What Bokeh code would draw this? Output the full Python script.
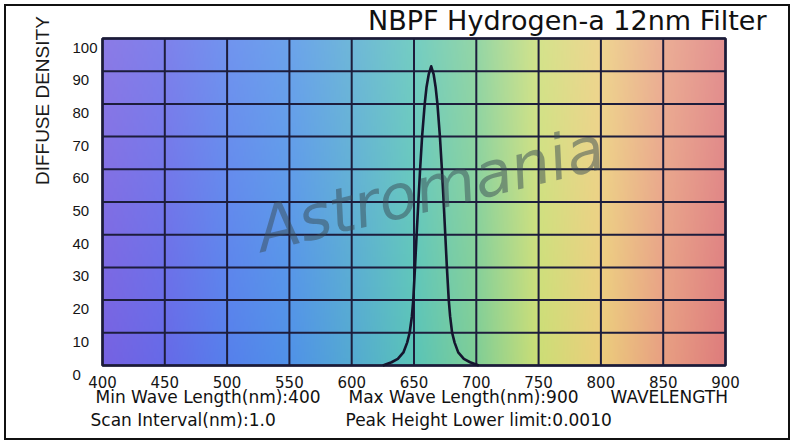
import numpy as np
from bokeh.plotting import figure
from bokeh.models import Range1d, Label, LabelSet, ColumnDataSource
from bokeh.core.properties import value
from bokeh.embed import file_html
from bokeh.resources import INLINE

# ---- data ----
wavelength_nm = [625, 632, 637, 641.5, 644.5, 646.5, 648.3, 649.4, 650.8, 652.1, 653.5, 654.9,
                 656.5, 658.6, 660.0, 661.8, 663.8, 665.8, 667.4, 668.8, 670.8, 672.4, 673.8,
                 675.1, 676.4, 677.9, 679.0, 680.6, 682.6, 685.5, 690, 695, 702]
density = [0, 1, 2, 4, 7, 10, 15, 20, 30, 40, 50, 60,
           70, 80, 85, 89, 91.5, 89, 85, 80, 70, 60, 50,
           40, 30, 20, 15, 10, 7, 4, 2, 1, 0]
x_ticks = [400, 450, 500, 550, 600, 650, 700, 750, 800, 850, 900]
y_ticks = [0, 10, 20, 30, 40, 50, 60, 70, 80, 90, 100]

title_text = "NBPF Hydrogen-a 12nm Filter"
y_title = "DIFFUSE DENSITY"
footer_row1 = ["Min Wave Length(nm):400", "Max Wave Length(nm):900", "WAVELENGTH"]
footer_row2 = ["Scan Interval(nm):1.0", "Peak Height Lower limit:0.0010"]

# ---- layout (pixels on the page) ----
CANVAS_L, CANVAS_T, CANVAS_R, CANVAS_B = 4, 4, 790, 440
AREA_L, AREA_R, AREA_T, AREA_B = 102, 725, 38, 365
x_lo, x_hi = min(x_ticks), max(x_ticks)
y_lo, y_hi = min(y_ticks), max(y_ticks)
sx = (AREA_R - AREA_L) / (x_hi - x_lo)
sy = (AREA_B - AREA_T) / (y_hi - y_lo)
xr = Range1d(x_lo - (AREA_L - CANVAS_L) / sx, x_hi + (CANVAS_R - AREA_R) / sx)
yr = Range1d(y_lo - (CANVAS_B - AREA_B) / sy, y_hi + (AREA_T - CANVAS_T) / sy)

# ---- spectral background (style) ----
grad_nm = [400, 450, 500, 550, 600, 650, 700, 750, 800, 850, 900]
grad_rgb = [(118, 98, 226), (102, 106, 232), (86, 128, 236), (80, 146, 232), (84, 170, 210),
            (90, 196, 184), (128, 206, 150), (204, 222, 118), (236, 206, 124), (232, 160, 130),
            (222, 124, 124)]
nx, ny = 500, 100
xs = np.linspace(400, 900, nx)
img = np.empty((ny, nx), dtype=np.uint32)
view = img.view(dtype=np.uint8).reshape((ny, nx, 4))
base = np.stack([np.interp(xs, grad_nm, [c[k] for c in grad_rgb]) for k in range(3)], axis=-1)
for j in range(ny):
    t = j / (ny - 1)
    l = 0.16 * t
    row = base * (1 - l) + 255 * l
    view[j, :, 0:3] = np.clip(row, 0, 255).astype(np.uint8)
    view[j, :, 3] = 255

W, H = CANVAS_R - CANVAS_L, CANVAS_B - CANVAS_T
p = figure(width=W, height=H, output_backend="svg", toolbar_location=None,
           x_range=xr, y_range=yr, min_border=0)
p.styles = {"margin-left": f"{CANVAS_L}px", "margin-top": f"{CANVAS_T}px"}
p.xaxis.visible = False
p.yaxis.visible = False
p.xgrid.visible = False
p.ygrid.visible = False
p.background_fill_color = "white"
p.border_fill_color = "white"
p.outline_line_color = "#111111"
p.outline_line_width = 3

p.image_rgba(image=[img], x=x_lo, y=y_lo, dw=x_hi - x_lo, dh=y_hi - y_lo, level="image")

# grid lines from the tick lists
GRID = "#1d1d3c"
p.segment(x0=x_ticks, y0=[y_lo] * len(x_ticks), x1=x_ticks, y1=[y_hi] * len(x_ticks),
          line_color=GRID, line_width=2)
p.segment(x0=[x_lo] * len(y_ticks), y0=y_ticks, x1=[x_hi] * len(y_ticks), y1=y_ticks,
          line_color=GRID, line_width=2)
p.quad(left=x_lo, right=x_hi, bottom=y_lo, top=y_hi, fill_color=None,
       line_color="#1b1b38", line_width=2.5)

# watermark
p.add_layout(Label(x=663, y=54, text="Astromania", angle=0.24, text_align="center",
                   text_baseline="middle", text_font="DejaVu Sans", text_font_style="italic",
                   text_font_size="62px", text_color="#3a4c55", text_alpha=0.5))

# curve
p.line(wavelength_nm, density, line_color="#15152e", line_width=2.6, line_join="round")

# x tick labels
xsrc = ColumnDataSource(dict(x=x_ticks, y=[y_lo] * len(x_ticks), text=[str(v) for v in x_ticks]))
p.add_layout(LabelSet(x="x", y="y", text="text", source=xsrc, y_offset=-10,
                      text_align="center", text_baseline="top",
                      text_font=value("DejaVu Sans"), text_font_size=value("15px"),
                      text_color="#151515"))

# y tick labels
ysrc = ColumnDataSource(dict(x=[x_lo] * len(y_ticks), y=y_ticks, text=[str(v) for v in y_ticks]))
p.add_layout(LabelSet(x="x", y="y", text="text", source=ysrc, x_offset=-30, y_offset=-4,
                      text_align="left", text_baseline="top",
                      text_font=value("Liberation Sans"), text_font_size=value("15px"),
                      text_color="#151515"))

# y title
p.add_layout(Label(x=x_lo, y=81, x_offset=-60, text=y_title, angle=np.pi / 2,
                   text_align="center", text_baseline="middle",
                   text_font="Liberation Sans", text_font_size="19px", text_color="#1a1a1a"))

# title
p.add_layout(Label(x=x_hi, y=y_hi, x_offset=41, y_offset=18, text=title_text, text_align="right",
                   text_baseline="alphabetic", text_font="DejaVu Sans", text_font_size="27px",
                   text_color="#111111"))

# footers
for txt, dx in zip(footer_row1, [-7, 246, 508]):
    p.add_layout(Label(x=x_lo, y=y_lo, x_offset=dx, y_offset=-31, text=txt, text_align="left",
                       text_baseline="alphabetic", text_font="DejaVu Sans", text_font_size="17px",
                       text_color="#111111"))
for txt, dx in zip(footer_row2, [-12, 243]):
    p.add_layout(Label(x=x_lo, y=y_lo, x_offset=dx, y_offset=-54, text=txt, text_align="left",
                       text_baseline="alphabetic", text_font="DejaVu Sans", text_font_size="17px",
                       text_color="#111111"))

open("out.html", "w").write(file_html(p, INLINE))
